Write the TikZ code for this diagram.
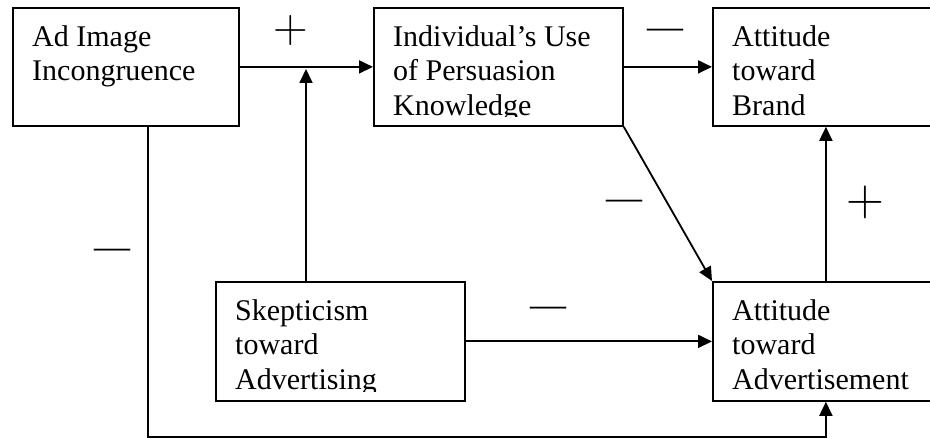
\documentclass[tikz,border=0pt]{standalone}
\usepackage{fontspec}
\setmainfont{Liberation Serif}
\newfontfamily\lmplus{Latin Modern Roman}
\usetikzlibrary{arrows.meta}
\begin{document}
\begin{tikzpicture}[x=1pt,y=-1pt,
 box/.style={draw, line width=1.8pt, anchor=north west, inner sep=0pt, minimum height=118pt},
 txt/.style={anchor=north west, inner sep=0pt, align=left, font=\fontsize{30}{34.5}\selectfont},
 conn/.style={line width=1.8pt},
 arr/.style={conn, -{Triangle[length=14pt,width=13pt]}},
 plussign/.style={inner sep=0pt, font=\lmplus\fontsize{52.5}{54}\selectfont},
 minussign/.style={inner sep=0pt, anchor=base, font=\fontsize{36}{40}\selectfont}]
\useasboundingbox (0,0) rectangle (930,438);
\clip (0,0) rectangle (930,438);

% boxes
\node[box, minimum width=226pt] (ad) at (12,7) {};
\node[box, minimum width=249pt] (ind) at (373,7) {};
\node[box, minimum width=226pt] (brand) at (712,7) {};
\node[box, minimum width=249pt, minimum height=119pt] (skep) at (215,281) {};
\node[box, minimum width=226pt, minimum height=119pt] (attad) at (712,281) {};

% texts (clipped at the bottom like the original text boxes)
\begin{scope}
\clip (ad.north west) rectangle ([yshift=10pt]ad.south east);
\node[txt] (adt) at ([shift={(20pt,-13pt)}]ad.north west) {\rule{0pt}{26pt}Ad Image\\Incongruence};
\end{scope}
\begin{scope}
\clip (ind.north west) rectangle ([yshift=10pt]ind.south east);
\node[txt] (indt) at ([shift={(20pt,-13pt)}]ind.north west) {\rule{0pt}{26pt}Individual’s Use\\of Persuasion\\Knowledge};
\end{scope}
\begin{scope}
\clip (brand.north west) rectangle ([yshift=10pt]brand.south east);
\node[txt] (brandt) at ([shift={(20pt,-13pt)}]brand.north west) {\rule{0pt}{26pt}Attitude\\toward\\Brand};
\end{scope}
\begin{scope}
\clip (skep.north west) rectangle ([yshift=10pt]skep.south east);
\node[txt] (skept) at ([shift={(20pt,-13pt)}]skep.north west) {\rule{0pt}{26pt}Skepticism\\toward\\Advertising};
\end{scope}
\begin{scope}
\clip (attad.north west) rectangle ([yshift=10pt]attad.south east);
\node[txt] (attadt) at ([shift={(20pt,-13pt)}]attad.north west) {\rule{0pt}{26pt}Attitude\\toward\\Advertisement};
\end{scope}

% helper coordinates
\coordinate (j) at (306,66);
\coordinate (c1) at (148,437);

% connectors
\draw[arr] (ad.east) -- (ind.west);
\draw[arr] (ind.east) -- (brand.west);
\draw[arr] (skep.north -| j) -- ([yshift=-3pt]j);
\draw[arr] (ind.south east) -- (attad.north west);
\draw[arr] (attad.north) -- (brand.south);
\draw[arr] (skep.east) -- (skep.east -| attad.west);
\draw[arr] (ad.south -| c1) -- (c1) -- (c1 -| attad.south) -- (attad.south);

% signs
\node[plussign, font=\lmplus\fontsize{48}{50}\selectfont] (p1) at (291,31) {+};
\node[plussign] (p2) at (865,202) {+};
\node[minussign] (m1) at (665,39) {—};
\node[minussign] (m2) at (624,210) {—};
\node[minussign] (m3) at (112,259) {—};
\node[minussign] (m4) at (548,317) {—};
\end{tikzpicture}
\end{document}
